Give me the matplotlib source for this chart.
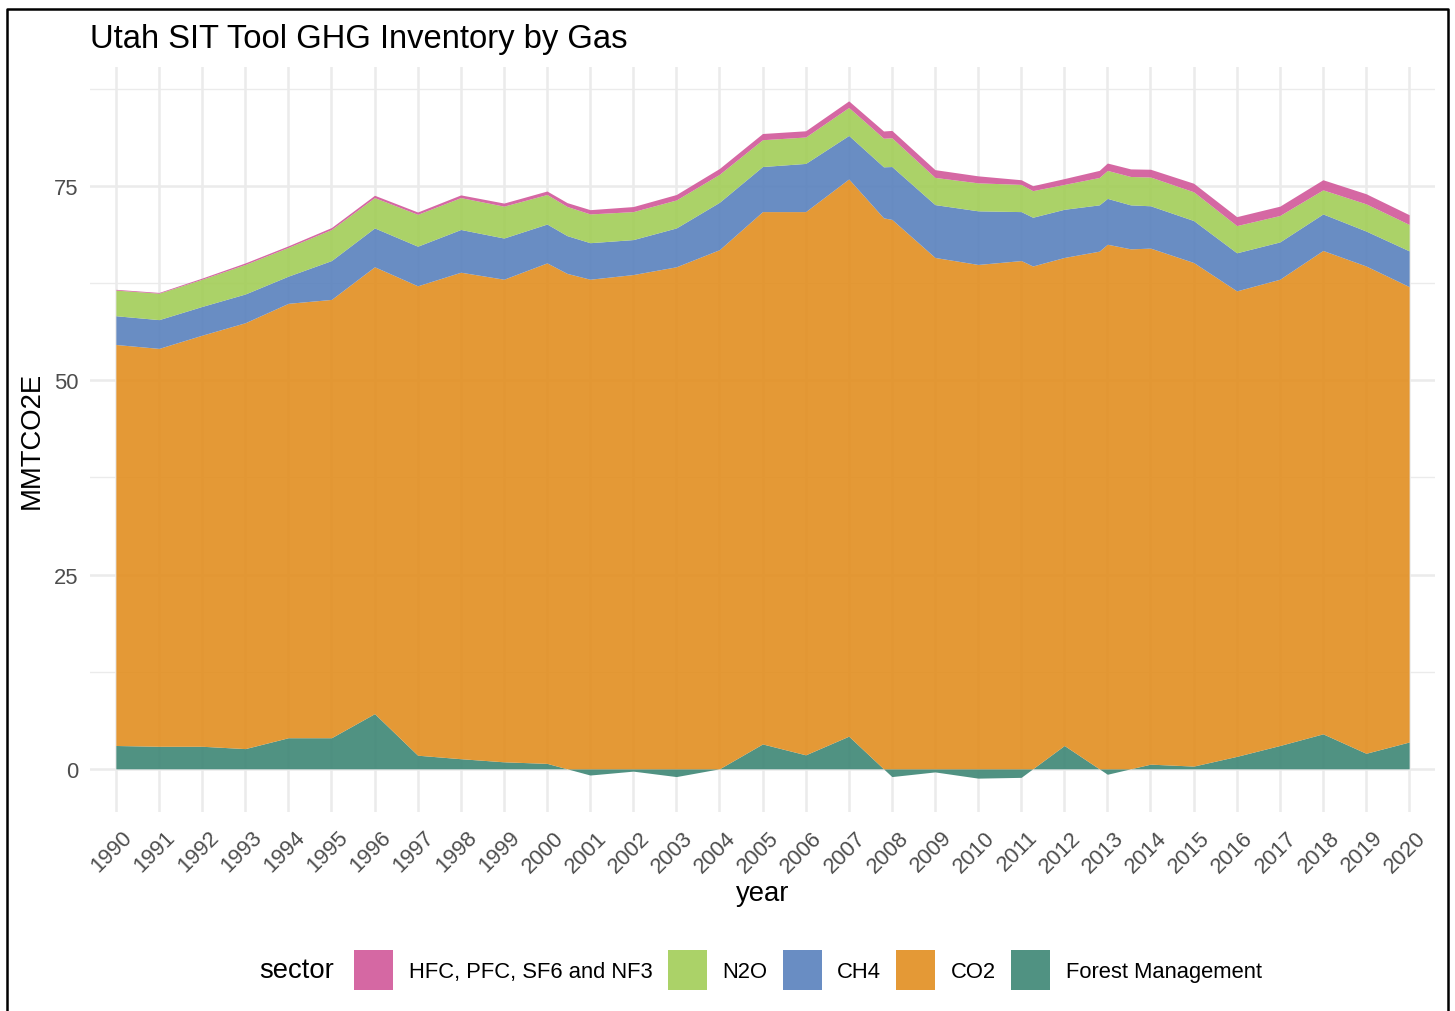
import numpy as np
import matplotlib
matplotlib.use("Agg")
import matplotlib.pyplot as plt
import matplotlib.transforms as mtransforms
from matplotlib.patches import Patch
from matplotlib.lines import Line2D

plt.rcParams["font.family"] = ["Liberation Sans", "DejaVu Sans"]

# values (MMTCO2E)
years = list(range(1990, 2021))
forest = [3.0, 2.9, 2.9, 2.6, 4.0, 4.0, 7.1, 1.75, 1.3, 0.9, 0.7, -0.8, -0.3, -1.0, 0.0, 3.2,
          1.8, 4.2, -1.0, -0.4, -1.2, -1.1, 3.0, -0.7, 0.6, 0.35, 1.6, 3.0, 4.5, 2.0, 3.45]
co2 = [51.6, 51.2, 52.9, 54.8, 55.9, 56.4, 57.5, 60.4, 62.6, 62.1, 64.4, 63.0, 63.6, 64.6, 66.8, 68.5,
       69.9, 71.7, 70.7, 65.8, 64.9, 65.4, 62.8, 67.5, 66.4, 64.8, 59.9, 60.0, 62.2, 62.7, 58.6]
ch4 = [3.7, 3.7, 3.7, 3.7, 3.5, 5.0, 5.0, 5.1, 5.5, 5.3, 5.0, 4.7, 4.5, 5.0, 6.1, 5.8,
       6.2, 5.6, 6.8, 6.8, 6.9, 6.3, 6.2, 5.9, 5.45, 5.4, 4.9, 4.8, 4.7, 4.5, 4.6]
n2o = [3.3, 3.4, 3.5, 3.8, 3.7, 4.0, 3.9, 4.1, 4.1, 4.1, 3.8, 3.7, 3.6, 3.6, 3.6, 3.45,
       3.4, 3.6, 3.7, 3.5, 3.6, 3.5, 3.2, 3.6, 3.7, 3.7, 3.5, 3.4, 3.1, 3.5, 3.4]
hfc = [0.1, 0.1, 0.15, 0.2, 0.2, 0.25, 0.3, 0.3, 0.35, 0.4, 0.45, 0.55, 0.65, 0.7, 0.75, 0.8,
       0.8, 0.85, 0.95, 1.0, 0.9, 0.6, 0.75, 0.95, 1.0, 1.1, 1.15, 1.2, 1.3, 1.3, 1.25]

sectors = ["HFC, PFC, SF6 and NF3", "N2O", "CH4", "CO2", "Forest Management"]
colors = ["#D15799", "#A2CD57", "#5981BD", "#E28E20", "#3D8675"]
ALPHA = 0.9

W, H = 1455, 1012


def fx(px):
    return px / W


def fy(py):
    return 1 - py / H


# add the points where forest management crosses zero, like ggplot's stat_align
x = np.array(years, dtype=float)
fm = np.array(forest)
cross = []
for i in range(len(fm) - 1):
    if fm[i] * fm[i + 1] < 0:
        cross.append(x[i] + fm[i] / (fm[i] - fm[i + 1]))
xs = np.sort(np.concatenate([x, cross]))
fm_s = np.interp(xs, x, fm)
pos_layers = [np.interp(xs, x, s) for s in (co2, ch4, n2o, hfc)]

fig = plt.figure(figsize=(W / 100, H / 100), dpi=100)
ax = fig.add_axes([fx(90), fy(813), fx(1435) - fx(90), fy(68) - fy(813)])

# forest management (can go below zero), then positive gases on top
ax.fill_between(xs, 0, fm_s, color=colors[4], alpha=ALPHA, lw=0, zorder=2)
bottom = np.maximum(fm_s, 0)
for layer, c in zip(pos_layers, colors[3::-1]):
    ax.fill_between(xs, bottom, bottom + layer, color=c, alpha=ALPHA, lw=0, zorder=2)
    bottom = bottom + layer

lo = min(fm_s.min(), 0)
hi = bottom.max()
pad = 0.05 * (hi - lo)
ax.set_ylim(lo - pad, hi + pad)
ax.set_xlim(years[0] - 0.6, years[-1] + 0.6)

ax.set_yticks([0, 25, 50, 75])
ax.set_yticks([12.5, 37.5, 62.5, 87.5], minor=True)
ax.set_xticks(years)
ax.set_xticklabels([str(y) for y in years], rotation=45, ha="right", va="top",
                   rotation_mode="anchor")
ax.tick_params(axis="both", which="both", length=0, labelsize=15.8, labelcolor="#4D4D4D")
ax.tick_params(axis="y", pad=8.5)
ax.tick_params(axis="x", pad=10.5)
shift = mtransforms.ScaledTranslation(6 / 100, 0, fig.dpi_scale_trans)
for lab in ax.get_xticklabels():
    lab.set_transform(lab.get_transform() + shift)

ax.grid(True, which="major", color="#EBEBEB", lw=1.8, zorder=0)
ax.grid(True, which="minor", axis="y", color="#EBEBEB", lw=0.95, zorder=0)
ax.set_axisbelow(True)
for sp in ax.spines.values():
    sp.set_visible(False)

fig.text(fx(90), fy(48), "Utah SIT Tool GHG Inventory by Gas", size=23.6, va="baseline", ha="left")
fig.text(fx(32), fy(440), "MMTCO2E", size=19.8, rotation=90, ha="center", va="center")
fig.text(fx(762.5), fy(901), "year", size=19.8, ha="center", va="baseline")

handles = [Patch(facecolor=c, alpha=ALPHA, edgecolor="none") for c in colors]
fig.legend(handles, sectors, loc="center", bbox_to_anchor=(fx(808), fy(971)), ncol=5,
           frameon=False, fontsize=15.8, handlelength=1.78, handleheight=2.36,
           handletextpad=0.7, columnspacing=0.7, borderpad=0, borderaxespad=0)
fig.text(fx(259), fy(971), "sector", size=19.8, ha="left", va="center")

# screenshot frame
fig.add_artist(Line2D([fx(6.5), fx(6.5), fx(1448), fx(1448)], [0, fy(9.5), fy(9.5), 0],
                      transform=fig.transFigure, color="black", lw=1.8))

fig.savefig("out.png", dpi=100)
